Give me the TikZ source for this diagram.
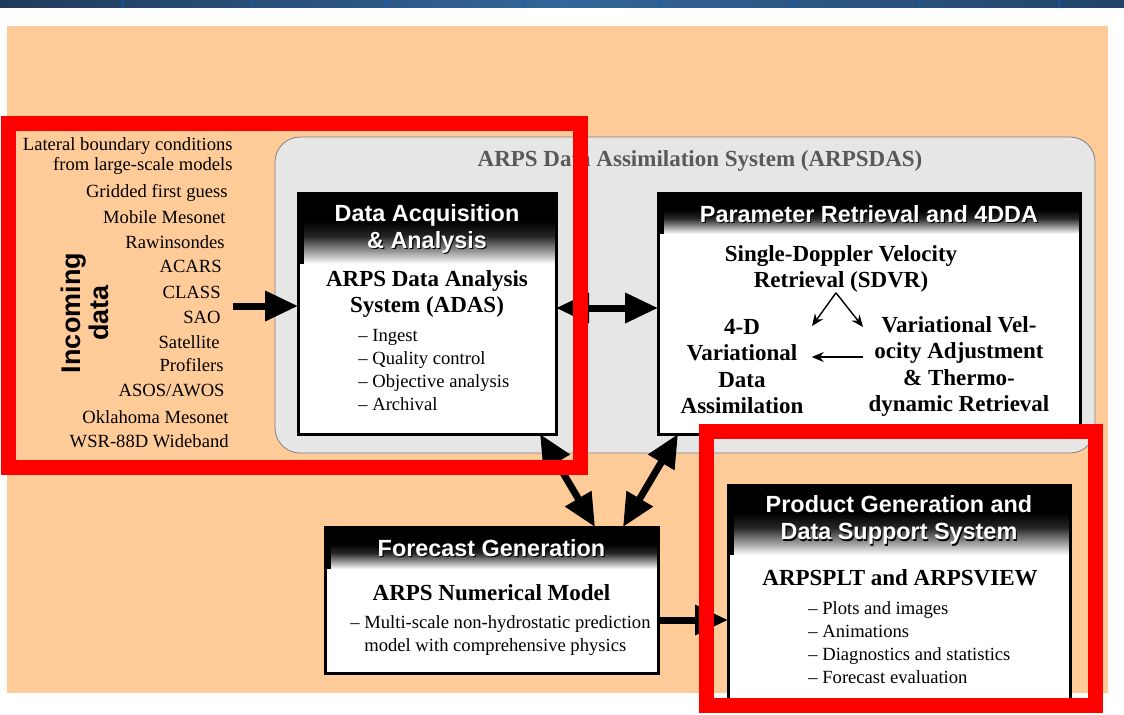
\documentclass[tikz,border=0pt]{standalone}
\usepackage{fontspec}
\setmainfont{Liberation Serif}
\setsansfont{Liberation Sans}
\usetikzlibrary{arrows.meta}

\definecolor{peach}{HTML}{FFCC99}
\definecolor{panelgray}{HTML}{E6E6E6}
\definecolor{bannerdark}{HTML}{1F3B5C}
\definecolor{bannermid}{HTML}{336699}
\definecolor{bannerline}{HTML}{0A5CC0}

\pgfdeclareverticalshading{headfade}{100bp}{color(0bp)=(white); color(25bp)=(white);
  color(33bp)=(black!35); color(45bp)=(black!85); color(56bp)=(black); color(100bp)=(black)}

\newcommand\shtext[1]{\makebox[0pt][l]{\hspace{0.6pt}\raisebox{-0.6pt}{\color{black}#1}}#1}

\begin{document}
\begin{tikzpicture}
    [
      x=0.5pt, y=-0.5pt,
      module/.style={draw=black,line width=1.5pt,fill=white,rectangle,inner sep=0pt,outer sep=0pt},
      header/.style={shading=headfade,rectangle,inner sep=0pt,text=white,align=center,
        font=\sffamily\bfseries\fontsize{11.7}{13.5}\selectfont},
      title/.style={font=\bfseries\fontsize{11.5}{13}\selectfont,align=center,inner sep=0pt},
      items/.style={font=\fontsize{9.3}{11.5}\selectfont,align=left,anchor=west,inner sep=0pt},
      source/.style={font=\fontsize{9.3}{10}\selectfont,anchor=east,inner sep=0pt},
      bigflow/.style={line width=3.5pt,draw=black,-{Triangle[length=16.5pt,width=14.5pt]}},
      bigboth/.style={line width=3.5pt,draw=black,
        {Triangle[length=16.5pt,width=14.5pt]}-{Triangle[length=16.5pt,width=14.5pt]}},
      flow/.style={line width=0.7pt,-{Stealth[length=6pt,width=5pt]}},
      highlight/.style={draw=red,line width=7.5pt}
    ]

    \useasboundingbox (0,0) rectangle (1124,714);
    \fill[white] (0,0) rectangle (1124,714);

    % banner and backdrop
    \shade[left color=bannerdark,right color=bannerdark!80!bannermid,middle color=bannermid]
      (0,0) rectangle (1124,7);
    \foreach \bx in {123,252,386,525,660,794,920,1060}
      \draw[bannerline,line width=0.6pt] (\bx,0) -- (\bx-1,7);
    \fill[peach] (7,26) rectangle (1108,693);
    \draw[black!50,fill=panelgray,rounded corners=12.5pt] (275,137) rectangle (1095,453);
    \node at (700,161) [title,text=black!65] (dastitle) {ARPS Data Assimilation System (ARPSDAS)};

    % incoming data
    \node at (85,313) [rotate=90,align=center,font=\sffamily\bfseries\fontsize{13.5}{14}\selectfont]
      (incoming) {Incoming\\data};
    \node at (233,156) [source,align=right] (lateral) {Lateral boundary conditions\\from large-scale models};
    \foreach \sx/\sy/\sname in {228/193/Gridded first guess, 226/217/Mobile Mesonet,
        225/242/Rawinsondes, 222/266/ACARS, 221/292/CLASS, 221/317/SAO, 220/342/Satellite,
        224/365/Profilers, 225/390/{ASOS/AWOS}, 229/417/Oklahoma Mesonet, 229/441/WSR-88D Wideband}
      \node at (\sx,\sy) [source] (src\sy) {\sname};

    % modules
    \node at (427,313.5) [module,minimum width=129pt,minimum height=120.5pt] (daa) {};
    \node at (869,313.5) [module,minimum width=211pt,minimum height=120.5pt] (pr) {};
    \node at (491.5,600) [module,minimum width=166.5pt,minimum height=73pt] (fg) {};
    \node at (899,592.5) [module,minimum width=171pt,minimum height=107.5pt] (pg) {};

    \node at ([yshift=-0.75pt]daa.north) [header,anchor=north,minimum width=127.5pt,minimum height=34.5pt]
      (daahead) {\shtext{Data Acquisition}\\\shtext{\& Analysis}};
    \node at ([yshift=-0.75pt]pr.north) [header,anchor=north,minimum width=209.5pt,minimum height=19.5pt]
      (prhead) {\shtext{Parameter Retrieval and 4DDA}};
    \node at ([yshift=-0.75pt]fg.north) [header,anchor=north,minimum width=165pt,minimum height=20pt]
      (fghead) {\shtext{Forecast Generation}};
    \node at ([yshift=-0.75pt]pg.north) [header,anchor=north,minimum width=169.5pt,minimum height=34pt]
      (pghead) {\shtext{Product Generation and}\\\shtext{Data Support System}};
    \foreach \h in {daahead,prhead,fghead,pghead}
      \fill (\h.north west) rectangle ([xshift=2.5pt]\h.south west);

    % module contents
    \node at (427,294) [title] (adas) {ARPS Data Analysis\\System (ADAS)};
    \node at (358,369.5) [items] (adasitems) {– Ingest\\– Quality control\\– Objective analysis\\– Archival};
    \node at (841,269) [title] (sdvr) {Single-Doppler Velocity\\Retrieval (SDVR)};
    \node at (742,366.5) [title,font=\bfseries\fontsize{11.5}{13.2}\selectfont] (fourdvar)
      {4-D\\Variational\\Data\\Assimilation};
    \node at (959,366.5) [title,font=\bfseries\fontsize{11.5}{13.2}\selectfont] (vvatr)
      {Variational Vel-\\ocity Adjustment\\\& Thermo-\\dynamic Retrieval};
    \node at (491.5,593) [title] (model) {ARPS Numerical Model};
    \node at (350,636) [items] (modelitems)
      {– Multi-scale non-hydrostatic prediction\\\phantom{– }model with comprehensive physics};
    \node at (900,578) [title] (plt) {ARPSPLT and ARPSVIEW};
    \node at (808,642.5) [items] (pltitems)
      {– Plots and images\\– Animations\\– Diagnostics and statistics\\– Forecast evaluation};

    % retrieval flow
    \coordinate (splitl) at (812,326);
    \coordinate (splitr) at (863,327);
    \draw[flow] ([xshift=-2.5pt]sdvr.south) -- (splitl);
    \draw[flow] ([xshift=-2.5pt]sdvr.south) -- (splitr);
    \draw[flow] ([shift={(-2.5pt,4.75pt)}]vvatr.west) -- ([shift={(4pt,4.75pt)}]fourdvar.east);

    % data flow
    \coordinate (feed) at (233,306);
    \coordinate (fgout) at ([yshift=-10pt]fg.east);
    \draw[bigflow] (feed) -- (feed -| daa.west);
    \draw[bigboth] ([yshift=2.75pt]daa.east) -- ([yshift=2.75pt]pr.west);
    \draw[bigboth] ([xshift=-8pt]daa.south east) -- ([xshift=-31.5pt]fg.north east);
    \draw[bigboth] ([xshift=10pt]pr.south west) -- ([xshift=-17.5pt]fg.north east);
    \draw[bigflow] (fgout) -- (fgout -| pg.west);

    % highlights
    \draw[highlight] (8.5,123) rectangle (580,467);
    \draw[highlight] (706,431) rectangle (1095,705);
  \end{tikzpicture}
\end{document}
